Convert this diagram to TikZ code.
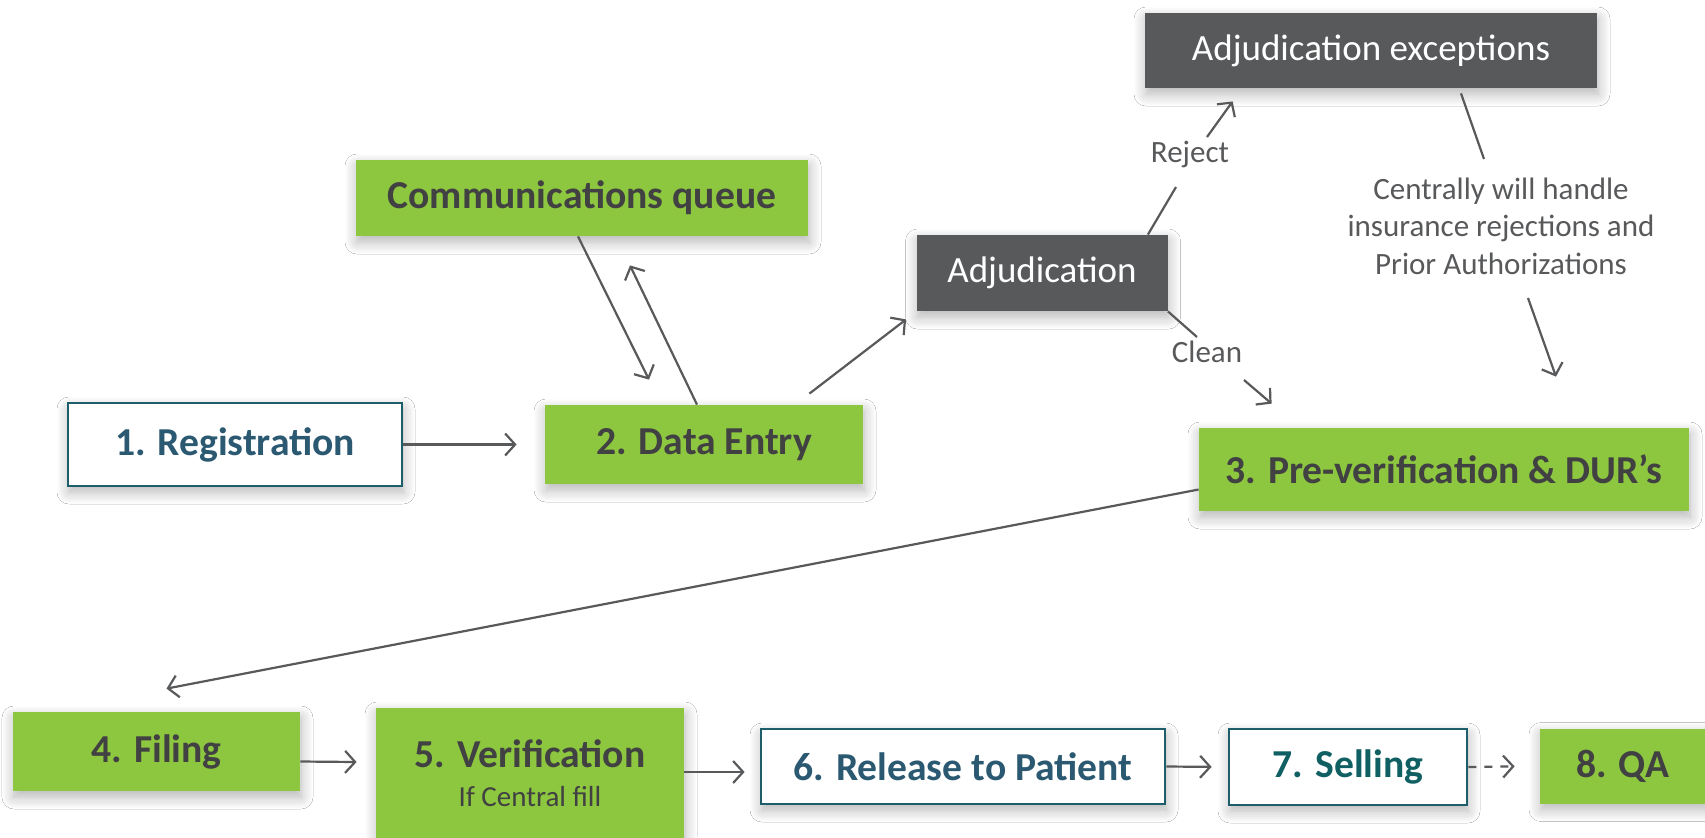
\documentclass[tikz,border=0pt]{standalone}
\usepackage{fontspec}
\setmainfont{Carlito}
\usetikzlibrary{arrows.meta,shadows.blur}

\definecolor{leaf}{HTML}{8DC63F}
\definecolor{slate}{HTML}{58595B}
\definecolor{ink}{HTML}{414042}
\definecolor{tealline}{HTML}{1E5E6B}
\definecolor{tealtext}{HTML}{2B5972}
\definecolor{sellteal}{HTML}{0F5F63}

\begin{document}
\begin{tikzpicture}[x=0.5pt,y=-0.5pt,
    boxshade/.style={blur shadow={shadow xshift=0.5pt,shadow yshift=-3pt,shadow blur radius=6pt,shadow blur steps=12,shadow opacity=30}},
    greenbox/.style={boxshade,fill=leaf,text=ink,font=\fontsize{19.8}{23}\selectfont\bfseries,inner sep=0pt},
    whitebox/.style={boxshade,fill=white,draw=tealline,line width=1.4pt,text=tealtext,font=\fontsize{19.8}{23}\selectfont\bfseries,inner sep=0pt},
    greybox/.style={boxshade,fill=slate,text=white,font=\fontsize{18.5}{22}\selectfont,inner sep=0pt},
    note/.style={text=slate,font=\fontsize{15.5}{18.75}\selectfont,align=center},
    flow/.style={draw=slate,line width=1.1pt,-{Straight Barb[length=5pt,width=11pt]}}]
    \useasboundingbox (0,0) rectangle (1705,837);
    \fill[white] (0,0) rectangle (1705,837);

    % Draw the boxes
    \node[greenbox,minimum width=226pt,minimum height=38pt] (comm) at (582,198) {Communications queue};
    \node[whitebox,minimum width=167pt,minimum height=41.5pt] (reg) at (235,444.5) {1. Registration};
    \node[greenbox,minimum width=159pt,minimum height=39.5pt] (data) at (704,444.5) {2. Data Entry};
    \node[greybox,minimum width=125.5pt,minimum height=38pt] (adj) at (1042,273) {Adjudication};
    \node[greybox,minimum width=226pt,minimum height=37.5pt] (exc) at (1371,50.5) {Adjudication exceptions};
    \node[greenbox,minimum width=245pt,minimum height=41.5pt] (pre) at (1444,469.5) {3. Pre-verification \& DUR’s};
    \node[greenbox,minimum width=143.5pt,minimum height=39.5pt] (fil) at (156.5,751.5) {4. Filing};
    \node[greenbox,minimum width=154pt,minimum height=71pt] (ver) at (530,779) {};
    \node[whitebox,minimum width=202pt,minimum height=37.5pt] (rel) at (963,766.5) {6. Release to Patient};
    \node[whitebox,minimum width=119pt,minimum height=38pt,text=sellteal] (sel) at (1348,767) {7. Selling};
    \node[greenbox,minimum width=83pt,minimum height=37.5pt] (qa) at (1623,766) {8. QA};

    % Label the boxes
    \node[text=ink,font=\fontsize{19.8}{23}\selectfont\bfseries] (vtitle) at (530,754) {5. Verification};
    \node[note,text=ink,font=\fontsize{14.5}{17}\selectfont] (vsub) at (530,797) {If Central fill};
    \node[note] (rej) at (1190,154) {Reject};
    \node[note] (cln) at (1207,352) {Clean};
    \node[note] (cent) at (1501,226) {Centrally will handle\\insurance rejections and\\Prior Authorizations};

    % Draw the arrows
    \draw[flow,shorten >=14pt] (reg.east) -- (data.west);
    \draw[flow] ([xshift=-2pt]comm.south) -- ([shift={(-55,-25)}]data.north);
    \draw[flow] ([xshift=-3.5pt]data.north) -- ([shift={(48,29)}]comm.south);
    \draw[flow] ([shift={(-54,-11)}]data.north east) -- ([shift={(-10,8)}]adj.south west);
    \draw[draw=slate,line width=1.1pt] ([xshift=-10pt]adj.north east) -- ([shift={(-14,33)}]rej.center);
    \draw[flow] ([shift={(17,-17)}]rej.center) -- ([shift={(88,13)}]exc.south west);
    \draw[draw=slate,line width=1.1pt] (adj.south east) -- ([shift={(-10,-15)}]cln.center);
    \draw[flow] ([shift={(37,28)}]cln.center) -- ([shift={(73,-24)}]pre.north west);
    \draw[draw=slate,line width=1.1pt] ([shift={(90,5)}]exc.south) -- ([shift={(-17,-67)}]cent.center);
    \draw[flow] ([shift={(27,72)}]cent.center) -- ([shift={(112,-51)}]pre.north);
    \draw[flow] ([shift={(0,20)}]pre.west) -- ([shift={(10,-23)}]fil.north);
    \draw[flow] ([shift={(0,10)}]fil.east) -- ([shift={(-19,-17)}]ver.west);
    \draw[flow] ([shift={(0,-7)}]ver.east) -- ([shift={(-15,5.5)}]rel.west);
    \draw[flow,shorten >=8pt] (rel.east) -- (sel.west);
    \draw[flow,dash pattern=on 4pt off 4pt,shorten >=12.5pt] (sel.east) -- (qa.west);
\end{tikzpicture}
\end{document}
